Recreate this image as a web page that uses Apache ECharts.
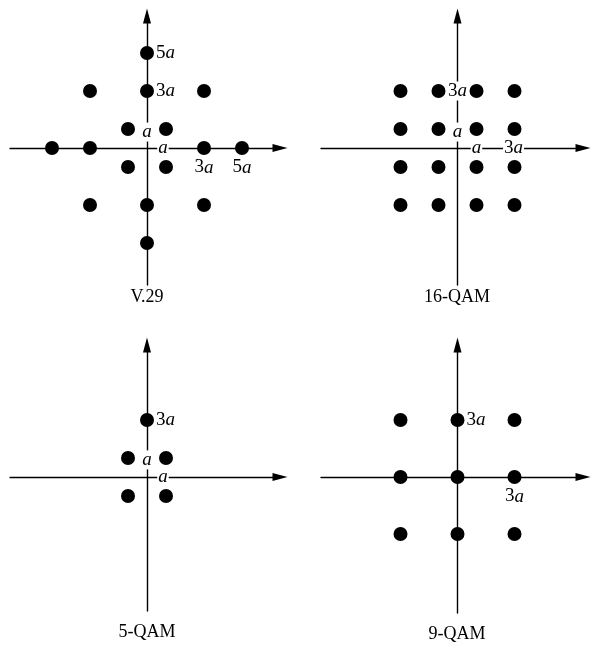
<!DOCTYPE html>
<html>
<head>
<meta charset="utf-8">
<script src="https://cdn.jsdelivr.net/npm/echarts@6/dist/echarts.min.js"></script>
<style>
  html, body { margin: 0; padding: 0; background: #fff; }
  #chart { width: 592px; height: 648px; }
</style>
</head>
<body>
<div id="chart"></div>
<script>
// Constellation points, in units of a
var v29Points = [[1, 1], [-1, 1], [1, -1], [-1, -1], [3, 0], [-3, 0], [0, 3], [0, -3],
  [3, 3], [-3, 3], [3, -3], [-3, -3], [5, 0], [-5, 0], [0, 5], [0, -5]];
var qam16Points = [[-3, 3], [-1, 3], [1, 3], [3, 3], [-3, 1], [-1, 1], [1, 1], [3, 1],
  [-3, -1], [-1, -1], [1, -1], [3, -1], [-3, -3], [-1, -3], [1, -3], [3, -3]];
var qam5Points = [[0, 3], [-1, 1], [1, 1], [-1, -1], [1, -1]];
var qam9Points = [[-3, 3], [0, 3], [3, 3], [-3, 0], [0, 0], [3, 0], [-3, -3], [0, -3], [3, -3]];

// Axis annotations: x, y, text, where it sits
var v29Labels = [[0, 5, '5a', 'right'], [0, 3, '3a', 'right'], [0, 0.84, 'a', 'inside'],
  [0.84, 0, 'a', 'inside'], [3, 0, '3a', 'bottom'], [5, 0, '5a', 'bottom']];
var qam16Labels = [[0, 3, '3a', 'inside'], [0, 0.84, 'a', 'inside'], [1, 0, 'a', 'inside'], [2.95, 0, '3a', 'inside']];
var qam5Labels = [[0, 3, '3a', 'right'], [0, 0.9, 'a', 'inside'], [0.84, 0, 'a', 'inside']];
var qam9Labels = [[0, 3, '3a', 'right'], [3, 0, '3a', 'bottom']];

var panelTitles = ['V.29', '16-QAM', '5-QAM', '9-QAM'];

var FONT = '"Liberation Serif", "DejaVu Serif", serif';
var UNIT = 19; // px per a

// origin and line extents of each panel, in px
var boxes = [
  { ox: 147, oy: 148, x0: 10, x1: 280, y0: 16, y1: 285, tx: 147, ty: 297 },
  { ox: 457.5, oy: 148, x0: 321, x1: 583, y0: 16, y1: 285, tx: 457, ty: 297 },
  { ox: 147, oy: 477, x0: 10, x1: 280, y0: 345, y1: 611, tx: 147, ty: 632 },
  { ox: 457.5, oy: 477, x0: 321, x1: 583, y0: 345, y1: 613, tx: 457, ty: 634 }
];
var pointSets = [v29Points, qam16Points, qam5Points, qam9Points];
var labelSets = [v29Labels, qam16Labels, qam5Labels, qam9Labels];

var axisLine = {
  show: true,
  onZero: true,
  symbol: ['none', 'triangle'],
  symbolSize: [8, 15],
  lineStyle: { color: '#000', width: 1.4 }
};

var grids = [], xAxes = [], yAxes = [], series = [], graphics = [];

boxes.forEach(function(b, i) {
  grids.push({ left: b.x0, top: b.y0, width: b.x1 - b.x0, height: b.y1 - b.y0 });
  xAxes.push({
    type: 'value', gridIndex: i,
    min: -(b.ox - b.x0) / UNIT, max: (b.x1 - b.ox) / UNIT,
    axisLine: axisLine, axisTick: { show: false }, axisLabel: { show: false }, splitLine: { show: false }
  });
  yAxes.push({
    type: 'value', gridIndex: i,
    min: -(b.y1 - b.oy) / UNIT, max: (b.oy - b.y0) / UNIT,
    axisLine: axisLine, axisTick: { show: false }, axisLabel: { show: false }, splitLine: { show: false }
  });

  series.push({
    type: 'scatter', xAxisIndex: i, yAxisIndex: i, z: 3,
    symbolSize: 14,
    itemStyle: { color: 'rgba(0,0,0,0)', opacity: 1 },
    data: labelSets[i].map(function(l) {
      return {
        value: [l[0], l[1]],
        label: {
          show: true,
          position: l[3],
          distance: l[3] === 'right' ? 1 : 3,
          formatter: l[2].replace('a', '{i|a}'),
          fontFamily: FONT, fontSize: 19, color: '#000', opacity: 1,
          backgroundColor: l[3] === 'inside' ? '#fff' : 'transparent',
          padding: [0, 1],
          rich: { i: { fontFamily: FONT, fontSize: 19, fontStyle: 'italic', color: '#000' } }
        }
      };
    }),
    silent: true
  });

  series.push({
    type: 'scatter', xAxisIndex: i, yAxisIndex: i, z: 4,
    symbolSize: 14,
    itemStyle: { color: '#000', opacity: 1 },
    data: pointSets[i],
    silent: true
  });

  graphics.push({
    type: 'text', x: b.tx, y: b.ty,
    style: { text: panelTitles[i], font: '18px ' + FONT, fill: '#000', textAlign: 'center', textVerticalAlign: 'middle' }
  });
});

var chart = echarts.init(document.getElementById('chart'));
chart.setOption({
  backgroundColor: '#fff',
  animation: false,
  grid: grids,
  xAxis: xAxes,
  yAxis: yAxes,
  series: series,
  graphic: graphics
});
</script>
</body>
</html>
